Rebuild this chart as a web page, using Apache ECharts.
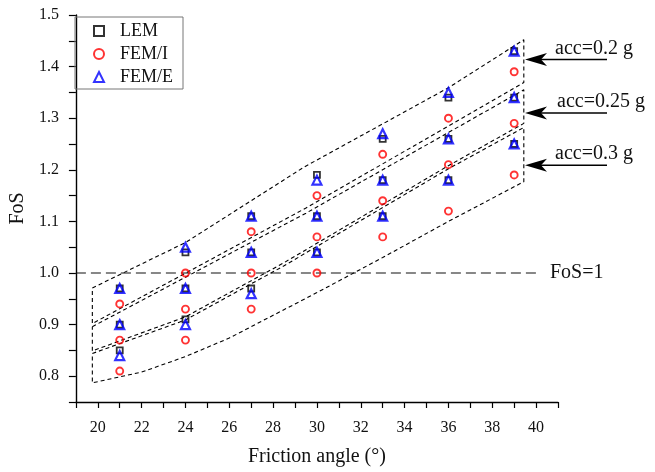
<!DOCTYPE html>
<html>
<head>
<meta charset="utf-8">
<script src="https://cdn.jsdelivr.net/npm/echarts@6/dist/echarts.min.js"></script>
<style>
html, body { margin: 0; padding: 0; background: #fff; }
#chart { width: 655px; height: 472px; }
</style>
</head>
<body>
<div id="chart"></div>
<script>
// friction angles of the tests
var angles = [21, 24, 27, 30, 33, 36, 39];

// FoS values, one array per method and acceleration
var lem02 = [0.97, 1.04, 1.11, 1.19, 1.26, 1.34, 1.43];
var lem025 = [0.90, 0.97, 1.04, 1.11, 1.18, 1.26, 1.34];
var lem03 = [0.85, 0.91, 0.97, 1.04, 1.11, 1.18, 1.25];

var femI02 = [0.94, 1.00, 1.08, 1.15, 1.23, 1.30, 1.39];
var femI025 = [0.87, 0.93, 1.00, 1.07, 1.14, 1.21, 1.29];
var femI03 = [0.81, 0.87, 0.93, 1.00, 1.07, 1.12, 1.19];

var femE02 = [0.97, 1.05, 1.11, 1.18, 1.27, 1.35, 1.43];
var femE025 = [0.90, 0.97, 1.04, 1.11, 1.18, 1.26, 1.34];
var femE03 = [0.84, 0.90, 0.96, 1.04, 1.11, 1.18, 1.25];

// dashed envelopes (upper edge, lower edge) for each acceleration
var env02Top = [[19.75, 0.971], [24, 1.059], [29.4, 1.205], [36, 1.359], [39.44, 1.452]];
var env02Bot = [[19.75, 0.902], [29.5, 1.126], [39.44, 1.369]];
var env025Top = [[19.75, 0.896], [29.5, 1.116], [39.44, 1.355]];
var env025Bot = [[19.75, 0.849], [24, 0.915], [28.5, 1.02], [36, 1.208], [39.44, 1.29]];
var env03Top = [[19.75, 0.844], [24, 0.909], [28.5, 1.014], [36, 1.202], [39.44, 1.282]];
var env03Bot = [[19.75, 0.787], [22, 0.808], [24, 0.838], [26, 0.874], [28, 0.918], [30, 0.962], [33, 1.03], [36, 1.10], [39.44, 1.177]];

var fosLine = [[19, 1.0], [40.19, 1.0]];

var accLabels = ['acc=0.2 g', 'acc=0.25 g', 'acc=0.3 g'];
var accArrowY = [1.414, 1.310, 1.209];

var font = 'Liberation Serif';

function pts(ys) {
	return angles.map(function(a, i) { return [a, ys[i]]; });
}

function ring(top, bot) {
	var r = top.slice();
	r = r.concat(bot.slice().reverse());
	r.push(top[0]);
	return r;
}

function envSeries(data) {
	return {
		type: 'line', data: data, symbol: 'none', silent: true, z: 1,
		lineStyle: { color: '#000', width: 1.1, type: [4, 3] }
	};
}

var myChart = echarts.init(document.getElementById('chart'));

var option = {
	animation: false,
	backgroundColor: '#fff',
	textStyle: { fontFamily: font },
	grid: { left: 71, right: 97, top: 15, bottom: 66 },
	legend: {
		orient: 'vertical', left: 75, top: 17,
		padding: [5, 10, 3, 18], itemGap: 5,
		itemWidth: 10, itemHeight: 10,
		borderColor: '#777', borderWidth: 1,
		data: ['LEM', 'FEM/I', 'FEM/E'],
		textStyle: { fontFamily: font, fontSize: 18, color: '#111', lineHeight: 18, padding: [0, 0, 0, 11] }
	},
	xAxis: {
		type: 'value', min: 19, max: 41, interval: 1,
		name: 'Friction angle (°)', nameLocation: 'middle', nameGap: 45,
		nameTextStyle: { fontFamily: font, fontSize: 20, color: '#111' },
		axisLine: { lineStyle: { color: '#000', width: 1.4 } },
		axisTick: { length: 6, lineStyle: { color: '#000', width: 1.2 } },
		axisLabel: {
			margin: 18, fontFamily: font, fontSize: 16, color: '#111',
			formatter: function(v) { return v % 2 === 0 ? String(v) : ''; }
		},
		splitLine: { show: false }
	},
	yAxis: {
		type: 'value', min: 0.75, max: 1.5, interval: 0.05,
		name: 'FoS', nameLocation: 'middle', nameGap: 34,
		nameTextStyle: { fontFamily: font, fontSize: 20, color: '#111' },
		axisLine: { show: true, lineStyle: { color: '#000', width: 1.4 } },
		axisTick: { show: true, length: 7, lineStyle: { color: '#000', width: 1.2 } },
		axisLabel: {
			margin: 17, fontFamily: font, fontSize: 16, color: '#111',
			formatter: function(v) {
				return Math.abs(v * 10 - Math.round(v * 10)) < 1e-6 ? v.toFixed(1) : '';
			}
		},
		splitLine: { show: false }
	},
	series: [
		envSeries(ring(env02Top, env02Bot)),
		envSeries(ring(env025Top, env025Bot)),
		envSeries(ring(env03Top, env03Bot)),
		{
			type: 'line', data: fosLine, symbol: 'none', silent: true, z: 1,
			lineStyle: { color: '#111', width: 1.2, type: [10, 5] }
		},
		{
			name: 'LEM', type: 'scatter', symbol: 'rect', symbolSize: 6, z: 3,
			itemStyle: { color: 'rgba(0,0,0,0)', borderColor: '#000', borderWidth: 1.8 },
			data: pts(lem02).concat(pts(lem025), pts(lem03))
		},
		{
			name: 'FEM/I', type: 'scatter', symbol: 'circle', symbolSize: 7, z: 4,
			itemStyle: { color: 'rgba(0,0,0,0)', borderColor: '#ff0000', borderWidth: 1.9 },
			data: pts(femI02).concat(pts(femI025), pts(femI03))
		},
		{
			name: 'FEM/E', type: 'scatter', symbol: 'triangle', symbolSize: 9, z: 5,
			itemStyle: { color: 'rgba(0,0,0,0)', borderColor: '#0000ff', borderWidth: 2.2 },
			data: pts(femE02).concat(pts(femE025), pts(femE03))
		}
	]
};

myChart.setOption(option);

// annotations: arrows with acc labels and the FoS=1 tag
var graphics = [];
accArrowY.forEach(function(yv, i) {
	var y = myChart.convertToPixel({ gridIndex: 0 }, [40, yv])[1];
	var tip = 525, tail = 607;
	graphics.push({
		type: 'line', silent: true,
		shape: { x1: tip + 14, y1: y, x2: tail, y2: y },
		style: { stroke: '#000', lineWidth: 1.5 }
	});
	graphics.push({
		type: 'polygon', silent: true,
		shape: { points: [[tip, y], [tip + 22, y - 6.5], [tip + 16, y], [tip + 22, y + 6.5]] },
		style: { fill: '#000' }
	});
	graphics.push({
		type: 'text', silent: true, x: i === 1 ? 557 : 555, y: y - 11,
		style: { text: accLabels[i], font: '20px "' + font + '"', fill: '#111', verticalAlign: 'middle' }
	});
});
var fy = myChart.convertToPixel({ gridIndex: 0 }, [40, 1.0])[1];
graphics.push({
	type: 'text', silent: true, x: 550, y: fy,
	style: { text: 'FoS=1', font: '20px "' + font + '"', fill: '#111', verticalAlign: 'middle' }
});
myChart.setOption({ graphic: graphics });
</script>
</body>
</html>
